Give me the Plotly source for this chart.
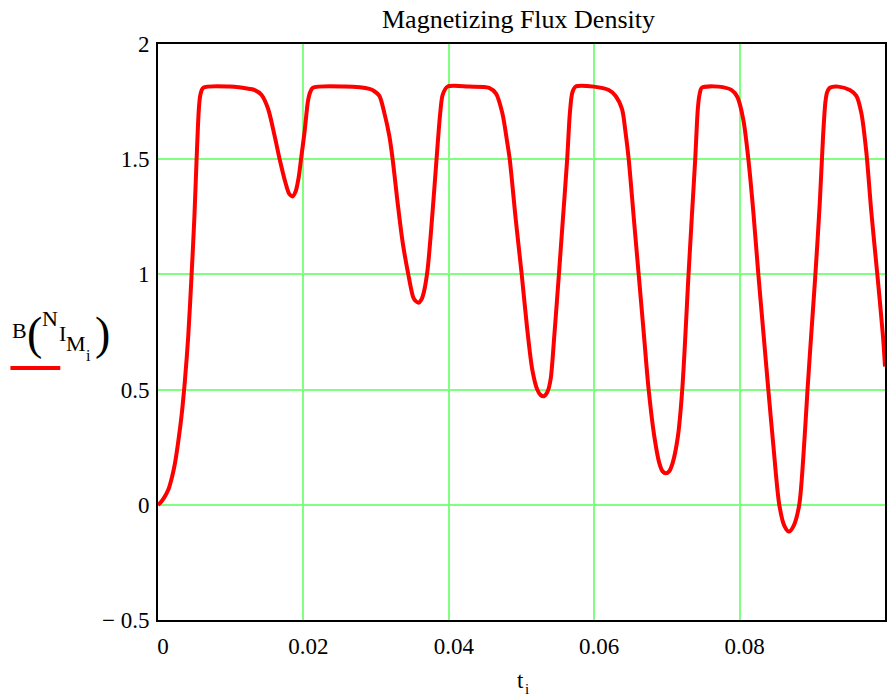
import plotly.graph_objects as go

# time samples (s) and magnetizing flux density (T)
t_vals = [0.0, 0.000274, 0.000823, 0.001413, 0.001920, 0.002332, 0.002812, 0.003251, 0.003704, 0.004156,
          0.004623, 0.005007, 0.005309, 0.005624, 0.005830, 0.006214, 0.009877, 0.012620, 0.013306, 0.014225,
          0.015130, 0.016049, 0.016735, 0.017517, 0.018038, 0.018477, 0.018930, 0.019342, 0.019712, 0.020165,
          0.020617, 0.020919, 0.021303, 0.025652, 0.029081, 0.029767, 0.030453, 0.031139, 0.031824, 0.032277,
          0.032963, 0.033649, 0.034431, 0.035117, 0.035460, 0.035844, 0.036214, 0.036584, 0.037078, 0.037764,
          0.038313, 0.038820, 0.039163, 0.039822, 0.042798, 0.045542, 0.046502, 0.047366, 0.048052, 0.048381,
          0.049204, 0.050027, 0.050796, 0.051481, 0.052167, 0.052606, 0.053086, 0.053567, 0.054005, 0.054527,
          0.055144, 0.055693, 0.056283, 0.056653, 0.056996, 0.057435, 0.059945, 0.062003, 0.062922, 0.063827,
          0.064294, 0.064746, 0.065432, 0.066118, 0.066804, 0.067490, 0.068272, 0.068957, 0.069410, 0.069863,
          0.070302, 0.070782, 0.071509, 0.072112, 0.072977, 0.073429, 0.073896, 0.074252, 0.074486, 0.074801,
          0.077092, 0.078916, 0.079698, 0.080521, 0.081207, 0.081893, 0.082579, 0.083265, 0.083951, 0.084636,
          0.085460, 0.086145, 0.086790, 0.087449, 0.088203, 0.088752, 0.089342, 0.089877, 0.090425, 0.091029,
          0.091481, 0.091797, 0.092030, 0.092414, 0.093553, 0.095158, 0.096063, 0.096749, 0.097435, 0.098121,
          0.098944, 0.099726, 0.100000]
b_vals = [0.0, 0.007, 0.03, 0.065, 0.12, 0.18, 0.28, 0.39, 0.54, 0.73,
          1.00, 1.25, 1.50, 1.72, 1.78, 1.81, 1.815, 1.805, 1.80, 1.78,
          1.72, 1.60, 1.50, 1.40, 1.35, 1.338, 1.36, 1.42, 1.51, 1.62,
          1.75, 1.79, 1.81, 1.815, 1.805, 1.795, 1.775, 1.70, 1.60, 1.50,
          1.31, 1.14, 1.00, 0.90, 0.884, 0.877, 0.89, 0.925, 1.02, 1.27,
          1.50, 1.70, 1.78, 1.815, 1.815, 1.81, 1.785, 1.70, 1.57, 1.50,
          1.24, 1.00, 0.76, 0.587, 0.50, 0.477, 0.471, 0.49, 0.545, 0.74,
          1.00, 1.24, 1.50, 1.70, 1.79, 1.815, 1.815, 1.80, 1.775, 1.717,
          1.62, 1.50, 1.25, 1.00, 0.75, 0.50, 0.296, 0.181, 0.145, 0.137,
          0.145, 0.181, 0.296, 0.50, 1.00, 1.25, 1.50, 1.717, 1.78, 1.81,
          1.815, 1.80, 1.77, 1.67, 1.50, 1.27, 1.00, 0.75, 0.50, 0.26,
          0.0, -0.09, -0.116, -0.09, 0.0, 0.20, 0.50, 0.75, 1.00, 1.31,
          1.60, 1.746, 1.79, 1.81, 1.815, 1.80, 1.775, 1.70, 1.53, 1.27,
          1.00, 0.73, 0.60]
assert len(t_vals) == len(b_vals)

x_tickvals = [0, 0.02, 0.04, 0.06, 0.08]
x_ticktext = ["0", "0.02", "0.04", "0.06", "0.08"]
y_tickvals = [-0.5, 0, 0.5, 1, 1.5, 2]
y_ticktext = ["\u2212 0.5", "0", "0.5", "1", "1.5", "2"]

title_text = "Magnetizing Flux Density"

FONT = "Liberation Serif, Times New Roman, serif"
GRID = "#80FF80"

# plot-area geometry (pixels)
L, R, T, B = 158, 887, 44, 620
W, H = R - L, B - T

fig = go.Figure()
fig.add_trace(go.Scatter(
    x=t_vals, y=b_vals, mode="lines",
    line=dict(color="#FF0000", width=4, shape="spline", smoothing=0.8),
    showlegend=False, hoverinfo="skip",
))

fig.update_layout(
    width=888, height=700,
    margin=dict(l=L, r=888 - R, t=T, b=700 - B),
    paper_bgcolor="white", plot_bgcolor="white",
    font=dict(family=FONT, size=23, color="black"),
)
fig.update_xaxes(
    range=[0, 0.1], tickvals=x_tickvals, ticktext=x_ticktext,
    showgrid=True, gridcolor=GRID, gridwidth=2, zeroline=False,
    showline=True, linecolor="black", linewidth=2, mirror=True,
    ticks="", ticklabelshift=5, ticklabelstandoff=4,
    tickfont=dict(family=FONT, size=23, color="black"),
)
fig.update_yaxes(
    range=[-0.5, 2], tickvals=y_tickvals, ticktext=y_ticktext,
    showgrid=True, gridcolor=GRID, gridwidth=2, zeroline=False,
    showline=True, linecolor="black", linewidth=2, mirror=True,
    ticks="", ticklabelstandoff=2,
    tickfont=dict(family=FONT, size=23, color="black"),
)

ann = []
def pa(text, px, py, size=22, anchor="center"):
    ann.append(dict(text=text, x=(px - L) / W, y=(B - py) / H, xref="paper", yref="paper",
                    xanchor=anchor, yanchor="middle", showarrow=False,
                    font=dict(family=FONT, size=size, color="black")))

pa(title_text, 519, 19, 26)
# x axis label t_i
pa("t", 521, 680, 23)
pa("i", 528, 689, 15)
# y axis label B(N I_M_i)
pa("B", 19, 330, 22)
pa("(", 34, 333, 46)
pa("N", 50, 318, 22)
pa("I", 62, 333, 22)
pa("M", 76, 344, 22)
pa("i", 88, 355, 16)
pa(")", 102, 333, 46)
fig.update_layout(annotations=ann)
fig.add_shape(type="line", x0=(10 - L) / W, x1=(60 - L) / W, y0=(B - 368) / H, y1=(B - 368) / H,
              xref="paper", yref="paper", line=dict(color="#FF0000", width=4))

fig.write_html("out.html")
